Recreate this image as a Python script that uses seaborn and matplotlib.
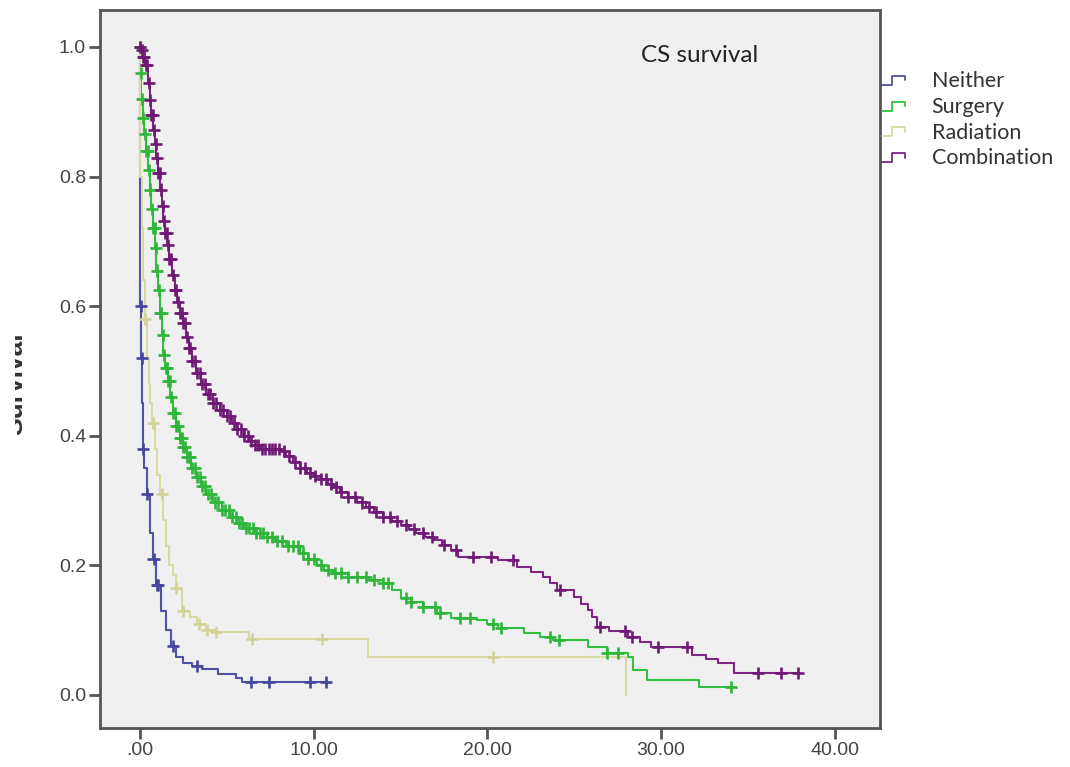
import numpy as np
import pandas as pd
import matplotlib
matplotlib.use('Agg')
import matplotlib.pyplot as plt
from matplotlib.legend_handler import HandlerBase
from matplotlib.lines import Line2D
from matplotlib.patches import Rectangle
import seaborn as sns

groups = ['Neither', 'Surgery', 'Radiation', 'Combination']
colors = {'Neither': '#4f52a6', 'Surgery': '#33bf3f',
          'Radiation': '#d9d9a3', 'Combination': '#7e2483'}
mark_colors = {'Neither': '#44479c', 'Surgery': '#2eb53a',
               'Radiation': '#d2d29a', 'Combination': '#6e1a74'}

# step knots (time, survival)
neither_t = [0, 0.03, 0.08, 0.12, 0.17, 0.25, 0.4, 0.55, 0.75, 0.95, 1.2, 1.5, 1.8, 2.1, 2.5, 3.0, 3.6, 4.5, 5.5, 5.9, 10.8]
neither_s = [1.0, 0.60, 0.52, 0.45, 0.38, 0.35, 0.31, 0.25, 0.21, 0.17, 0.13, 0.10, 0.075, 0.058, 0.05, 0.045, 0.040, 0.033, 0.026, 0.02, 0.02]
neither_cens = [0.04, 0.1, 0.18, 0.42, 0.78, 1.0, 1.05, 1.9, 3.3, 6.4, 7.4, 9.8, 10.7]

surgery_t = [0, 0.02, 0.08, 0.15, 0.25, 0.35, 0.45, 0.55, 0.65, 0.75, 0.85, 0.95, 1.05, 1.15, 1.25, 1.35, 1.45, 1.6, 1.75,
             1.9, 2.1, 2.3, 2.5, 2.7, 2.95, 3.2, 3.5, 3.8, 4.2, 4.7, 5.2, 5.6, 6.0, 6.6, 7.3, 7.8, 8.4, 9.2, 9.7, 10.2,
             10.6, 11.1, 12.0, 13.1, 14.0, 14.5, 15.0, 15.6, 16.3, 17.1, 17.9, 19.4, 20.0, 20.6, 22.1, 23.0, 23.8,
             25.8, 26.9, 28.1, 28.4, 29.2, 32.2, 34.0]
surgery_s = [1.0, 0.96, 0.92, 0.89, 0.865, 0.84, 0.81, 0.78, 0.75, 0.72, 0.69, 0.655, 0.625, 0.59, 0.555, 0.525, 0.505, 0.485, 0.46,
             0.435, 0.415, 0.397, 0.382, 0.367, 0.35, 0.337, 0.322, 0.31, 0.297, 0.285, 0.275, 0.265, 0.257, 0.25, 0.244, 0.237,
             0.23, 0.219, 0.21, 0.2, 0.193, 0.188, 0.182, 0.177, 0.173, 0.162, 0.15, 0.143, 0.136, 0.127, 0.119, 0.116, 0.11,
             0.103, 0.096, 0.09, 0.085, 0.074, 0.065, 0.059, 0.039, 0.023, 0.012, 0.012]
surgery_cens = [0.0, 0.05, 0.12, 0.2, 0.28, 0.36, 0.44, 0.52, 0.6, 0.68, 0.76, 0.84, 0.92, 1.0, 1.08, 1.16, 1.24, 1.32, 1.4, 1.48,
                1.56, 1.64, 1.72, 1.8, 1.9, 2.0, 2.1, 2.2, 2.3, 2.4, 2.5, 2.6, 2.7, 2.8, 2.9, 3.0, 3.15, 3.3, 3.45, 3.6, 3.75,
                3.9, 4.1, 4.3, 4.5, 4.7, 4.9, 5.1, 5.3, 5.5, 5.7, 5.9, 6.1, 6.3, 6.5, 6.7, 6.9, 7.1, 7.3, 7.6, 7.9, 8.2, 8.5,
                8.8, 9.1, 9.4, 9.7, 10.0, 10.4, 10.8, 11.2, 11.6, 12.0, 12.5, 13.0, 13.5, 14.0, 14.3, 15.3, 15.6, 16.3, 17.0,
                17.3, 18.4, 19.0, 20.3, 20.8, 23.6, 24.1, 26.9, 27.5, 34.0]

radiation_t = [0, 0.02, 0.1, 0.2, 0.3, 0.4, 0.5, 0.6, 0.7, 0.85, 1.0, 1.15, 1.3, 1.5, 1.7, 1.9, 2.1, 2.4, 2.9, 3.3, 3.8, 4.3, 6.3, 13.1, 28.0]
radiation_s = [1.0, 0.80, 0.72, 0.64, 0.58, 0.52, 0.48, 0.45, 0.42, 0.38, 0.34, 0.31, 0.27, 0.23, 0.20, 0.185, 0.165, 0.13, 0.12, 0.11, 0.10, 0.097, 0.087, 0.058, 0.0]
radiation_cens = [0.3, 0.75, 1.26, 2.1, 2.5, 3.4, 3.85, 4.4, 6.45, 10.5, 20.3]

combo_t = [0, 0.05, 0.15, 0.3, 0.45, 0.57, 0.66, 0.75, 0.85, 0.95, 1.05, 1.15, 1.25, 1.35, 1.45, 1.55, 1.7, 1.85, 2.0,
           2.15, 2.3, 2.47, 2.65, 2.8, 3.0, 3.25, 3.5, 3.8, 4.2, 4.6, 5.0, 5.3, 5.6, 6.0, 6.3, 6.6, 6.9, 7.5, 8.1, 8.4,
           8.8, 9.2, 9.6, 10.0, 10.4, 10.8, 11.1, 11.5, 12.0, 12.5, 13.0, 13.5, 14.0, 14.5, 15.0, 15.5, 15.9, 16.4,
           16.9, 17.4, 17.9, 18.3, 20.6, 21.7, 22.5, 23.2, 23.6, 24.0, 25.0, 25.4, 25.8, 26.0, 26.3, 27.0, 28.1,
           28.8, 29.4, 31.8, 32.6, 33.3, 34.2, 38.0]
combo_s = [1.0, 0.995, 0.985, 0.972, 0.945, 0.918, 0.895, 0.872, 0.85, 0.828, 0.805, 0.78, 0.755, 0.732, 0.713, 0.695, 0.672,
           0.648, 0.625, 0.607, 0.59, 0.574, 0.553, 0.535, 0.515, 0.497, 0.48, 0.465, 0.45, 0.44, 0.43, 0.42, 0.41, 0.40,
           0.392, 0.386, 0.38, 0.379, 0.376, 0.368, 0.36, 0.35, 0.343, 0.338, 0.333, 0.326, 0.321, 0.313, 0.305, 0.297,
           0.29, 0.283, 0.275, 0.268, 0.262, 0.256, 0.25, 0.244, 0.239, 0.232, 0.224, 0.213, 0.208, 0.198, 0.19, 0.182,
           0.172, 0.162, 0.151, 0.141, 0.131, 0.12, 0.105, 0.098, 0.09, 0.082, 0.074, 0.062, 0.055, 0.049, 0.034, 0.034]
combo_cens = [0.02, 0.1, 0.18, 0.26, 0.34, 0.42, 0.5, 0.58, 0.66, 0.74, 0.82, 0.9, 0.98, 1.06, 1.14, 1.22, 1.3, 1.38, 1.46, 1.54,
              1.62, 1.7, 1.8, 1.9, 2.0, 2.1, 2.2, 2.3, 2.4, 2.5, 2.6, 2.7, 2.8, 2.9, 3.0, 3.15, 3.3, 3.45, 3.6, 3.75, 3.9, 4.05,
              4.2, 4.4, 4.6, 4.8, 5.0, 5.2, 5.4, 5.6, 5.8, 6.0, 6.2, 6.4, 6.6, 6.8, 7.0, 7.2, 7.4, 7.6, 7.8, 8.0, 8.3, 8.6, 8.9,
              9.2, 9.5, 9.8, 10.1, 10.4, 10.7, 11.0, 11.3, 11.6, 12.0, 12.4, 12.8, 13.2, 13.6, 14.0, 14.4, 14.8, 15.3, 15.8,
              16.3, 16.8, 17.5, 18.2, 19.2, 20.2, 21.5, 24.2, 26.5, 27.9, 28.3, 29.8, 31.5, 35.6, 36.9, 37.9]

x_ticks = [0, 10, 20, 30, 40]
x_labels = ['.00', '10.00', '20.00', '30.00', '40.00']
y_ticks = [0.0, 0.2, 0.4, 0.6, 0.8, 1.0]
y_labels = ['0.0', '0.2', '0.4', '0.6', '0.8', '1.0']

knots = {'Neither': (neither_t, neither_s, neither_cens),
         'Surgery': (surgery_t, surgery_s, surgery_cens),
         'Radiation': (radiation_t, radiation_s, radiation_cens),
         'Combination': (combo_t, combo_s, combo_cens)}

curve_rows, cens_rows = [], []
for g in groups:
    t, s, c = knots[g]
    for ti, si in zip(t, s):
        curve_rows.append((g, ti, si))
    # a censor mark sits on the step that is current at its time
    idx = np.searchsorted(t, c, side='right') - 1
    for ci, i in zip(c, idx):
        cens_rows.append((g, ci, s[i]))
curves = pd.DataFrame(curve_rows, columns=['group', 'time', 'survival'])
censors = pd.DataFrame(cens_rows, columns=['group', 'time', 'survival'])

sns.set_style('white')
plt.rcParams['font.family'] = ['Liberation Sans', 'DejaVu Sans']

fig = plt.figure(figsize=(10.7, 7.67), dpi=100)
ax = fig.add_axes([100 / 1070, 1 - 728 / 767, 780 / 1070, 718 / 767])
ax.set_facecolor('#f0f0f0')

sns.lineplot(data=curves, x='time', y='survival', hue='group', hue_order=groups,
             palette=colors, estimator=None, sort=False, drawstyle='steps-post',
             linewidth=1.5, ax=ax, legend=False)
sns.scatterplot(data=censors, x='time', y='survival', hue='group', hue_order=groups,
                palette=mark_colors, marker='+', s=75, linewidth=1.9, ax=ax, legend=False, zorder=3)

ax.set_xlim(-2.3, 42.6)
ax.set_ylim(-0.051, 1.057)
ax.set_xticks(x_ticks)
ax.set_xticklabels(x_labels)
ax.set_yticks(y_ticks)
ax.set_yticklabels(y_labels)
ax.tick_params(axis='both', direction='out', length=8, width=2, color='#555555',
               labelsize=14, labelcolor='#444444', pad=2, left=True, bottom=True)
for sp in ax.spines.values():
    sp.set_color('#555555')
    sp.set_linewidth(2)
ax.set_xlabel('')
ax.set_ylabel('Survival', fontsize=19, fontweight='bold', color='#333333')
ax.yaxis.set_label_coords(-0.093, 0.479)

ax.text(0.769, 0.936, 'CS survival', transform=ax.transAxes, ha='center', va='center',
        fontsize=17.5, color='#222222', family=['Lato', 'DejaVu Sans'])


class StepHandler(HandlerBase):
    def create_artists(self, legend, orig_handle, xdescent, ydescent, width, height, fontsize, trans):
        xs = np.array([0, 0.4, 0.4, 0.95, 0.95]) * width - xdescent
        ys = np.array([0.15, 0.15, 0.75, 0.75, 0.45]) * height - ydescent
        ln = Line2D(xs, ys, color=orig_handle.get_color(), lw=1.3, transform=trans)
        return [ln]


handles = [Line2D([], [], color=colors[g]) for g in groups]
leg = ax.legend(handles, groups, loc='upper left', bbox_to_anchor=(1.0, 0.918),
                frameon=False, handler_map={Line2D: StepHandler()}, handlelength=1.1,
                handletextpad=1.2, labelspacing=0.27, borderaxespad=0.0, borderpad=0.1,
                prop={'family': ['Lato', 'DejaVu Sans'], 'size': 15.5})
for txt in leg.get_texts():
    txt.set_color('#333333')

# the left side of the y label is cut off in the reference
fig.patches.append(Rectangle((0, 0), 15 / 1070, 1, transform=fig.transFigure,
                             facecolor='white', edgecolor='none', zorder=10))

fig.savefig('out.png', dpi=100, facecolor='white')
